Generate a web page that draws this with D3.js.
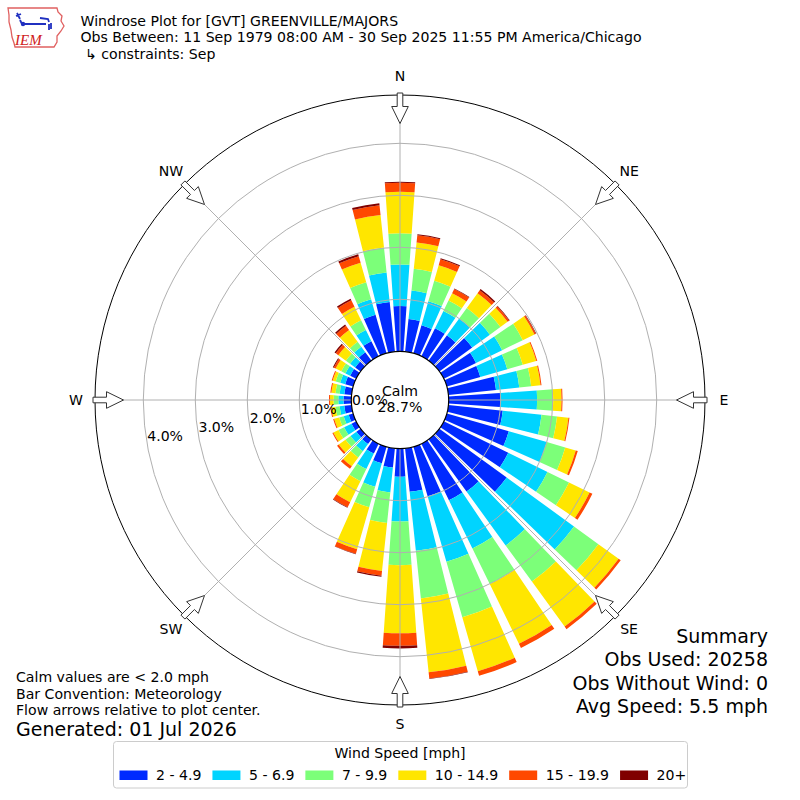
<!DOCTYPE html>
<html><head><meta charset="utf-8">
<script src="https://cdn.jsdelivr.net/npm/d3@7"></script>
<style>
body{margin:0;background:#fff}
text{font-family:"DejaVu Sans",sans-serif;fill:#000}
</style>
</head><body>
<svg id="chart" width="800" height="800"></svg>
<script>
// ---------------- data ----------------
const directions = d3.range(0, 360, 10);           // degrees, meteorological
const speedBins  = ["2 - 4.9", "5 - 6.9", "7 - 9.9", "10 - 14.9", "15 - 19.9", "20+"];
const binColors  = ["#002aff", "#00d4ff", "#7cff79", "#ffe600", "#ff4800", "#800000"];
const ringTicks  = [0, 1, 2, 3, 4];                 // percent
const compass    = ["N", "NE", "E", "SE", "S", "SW", "W", "NW"];
const calmPct    = 28.7;
// percent of observations per direction (0,10,...,350) for each speed bin
const bin2to5   = [0.87,0.63,0.56,0.60,0.60,0.78,0.69,0.67,0.92,0.99,1.05,1.24,1.38,1.60,1.24,1.21,0.99,0.84,0.54,0.37,0.33,0.21,0.11,0.10,0.10,0.09,0.14,0.15,0.14,0.16,0.13,0.13,0.20,0.32,0.77,0.96];
const bin5to7   = [0.80,0.55,0.48,0.37,0.40,0.42,0.56,0.54,0.45,0.71,0.75,0.76,0.84,1.60,1.28,1.03,1.31,1.14,0.86,0.48,0.47,0.33,0.17,0.14,0.16,0.10,0.09,0.10,0.09,0.10,0.10,0.12,0.13,0.24,0.31,0.57];
const bin7to10  = [0.60,0.42,0.41,0.22,0.25,0.25,0.44,0.31,0.23,0.31,0.30,0.37,0.46,0.58,0.86,0.76,1.11,0.92,0.84,0.59,0.41,0.26,0.15,0.12,0.12,0.09,0.08,0.09,0.08,0.09,0.09,0.10,0.12,0.21,0.34,0.48];
const bin10to15 = [0.80,0.51,0.31,0.16,0.35,0.17,0.25,0.27,0.18,0.16,0.22,0.21,0.44,0.48,1.07,1.28,1.08,1.43,1.31,0.93,0.84,0.45,0.21,0.16,0.11,0.10,0.08,0.07,0.08,0.06,0.12,0.18,0.28,0.29,0.39,0.63];
const bin15to20 = [0.17,0.14,0.12,0.09,0.07,0.04,0.03,0.02,0.02,0.02,0.02,0.04,0.06,0.05,0.06,0.09,0.09,0.12,0.24,0.09,0.09,0.11,0.06,0.04,0.02,0.02,0.02,0.02,0.02,0.02,0.04,0.06,0.10,0.14,0.13,0.19];
const bin20plus = [0.02,0.02,0.02,0.01,0.03,0.01,0.01,0.00,0.00,0.00,0.00,0.00,0.00,0.00,0.00,0.00,0.00,0.01,0.05,0.02,0.01,0.01,0.00,0.00,0.00,0.00,0.00,0.00,0.00,0.00,0.02,0.03,0.03,0.03,0.04,0.04];

const titleLines = ["Windrose Plot for [GVT] GREENVILLE/MAJORS",
  "Obs Between: 11 Sep 1979 08:00 AM - 30 Sep 2025 11:55 PM America/Chicago",
  " \u21b3 constraints: Sep"];
const summaryLines = ["Summary", "Obs Used: 20258", "Obs Without Wind: 0", "Avg Speed: 5.5 mph"];
const noteLines = ["Calm values are < 2.0 mph", "Bar Convention: Meteorology", "Flow arrows relative to plot center."];
const generated = "Generated: 01 Jul 2026";

// ---------------- layout ----------------
const svg = d3.select("#chart");
const cx = 400, cy = 400;
const R0 = 48.7, RMAX = 305, PX_PER_PCT = 52;
const r = d3.scaleLinear().domain([0, (RMAX - R0) / PX_PER_PCT]).range([R0, RMAX]);
const rad = d => d * Math.PI / 180;
const halfWidth = 4; // degrees
const FS = "14.1px", FL = "19px";

const keys = ["a", "b", "c", "d", "e", "f"];
const bins = [bin2to5, bin5to7, bin7to10, bin10to15, bin15to20, bin20plus];
const rows = directions.map((dir, i) => {
  const o = {dir};
  keys.forEach((k, j) => o[k] = bins[j][i]);
  return o;
});
const series = d3.stack().keys(keys)(rows);

const g = svg.append("g").attr("transform", `translate(${cx},${cy})`);

// bars
const arc = d3.arc()
  .innerRadius(d => r(d[0]))
  .outerRadius(d => r(d[1]))
  .startAngle(d => rad(d.data.dir - halfWidth))
  .endAngle(d => rad(d.data.dir + halfWidth));

series.forEach((s, j) => {
  g.append("g").selectAll("path")
    .data(s.filter(d => d[1] - d[0] > 0))
    .join("path")
    .attr("d", arc)
    .attr("fill", binColors[j]);
});

// grid rings
g.append("g").selectAll("circle")
  .data(ringTicks.filter(t => t > 0))
  .join("circle")
  .attr("r", d => r(d))
  .attr("fill", "none")
  .attr("stroke", "#b0b0b0")
  .attr("stroke-width", 1);

// radial lines
const pt = (deg, R) => [R * Math.sin(rad(deg)), -R * Math.cos(rad(deg))];
g.append("g").selectAll("line")
  .data(d3.range(0, 360, 45))
  .join("line")
  .attr("x1", 0).attr("y1", 0)
  .attr("x2", d => pt(d, RMAX)[0])
  .attr("y2", d => pt(d, RMAX)[1])
  .attr("stroke", "#b0b0b0")
  .attr("stroke-width", 1);

// calm circle
g.append("circle").attr("r", R0).attr("fill", "#fff").attr("stroke", "#000").attr("stroke-width", 1.2);

// outer circle
g.append("circle").attr("r", RMAX).attr("fill", "none").attr("stroke", "#000").attr("stroke-width", 1);

// flow arrows
const arrowShape = [[307, 2.8], [293.5, 2.8], [293.5, 8.3], [276.5, 0], [293.5, -8.3], [293.5, -2.8], [307, -2.8]];
g.append("g").selectAll("path")
  .data(d3.range(0, 360, 45))
  .join("path")
  .attr("d", deg => {
    const a = rad(deg);
    const u = [Math.sin(a), -Math.cos(a)], v = [Math.cos(a), Math.sin(a)];
    return "M" + arrowShape.map(([R, w]) => [R * u[0] + w * v[0], R * u[1] + w * v[1]].map(n => n.toFixed(2)).join(",")).join("L") + "Z";
  })
  .attr("fill", "#fff")
  .attr("stroke", "#333")
  .attr("stroke-width", 1);

// compass labels
g.append("g").selectAll("text")
  .data(compass)
  .join("text")
  .attr("x", (d, i) => pt(i * 45, 324)[0])
  .attr("y", (d, i) => pt(i * 45, 324)[1])
  .attr("text-anchor", "middle")
  .attr("dominant-baseline", "central")
  .style("font-size", FS)
  .text(d => d);

// ring labels
g.append("g").selectAll("text")
  .data(ringTicks)
  .join("text")
  .attr("x", d => pt(260, r(d))[0])
  .attr("y", d => pt(260, r(d))[1] - 8.7)
  .attr("text-anchor", "start")
  .attr("dominant-baseline", "central")
  .style("font-size", FS)
  .text(d => d.toFixed(1) + "%");

// calm text
g.append("text").attr("x", 0).attr("y", -9).attr("text-anchor", "middle").attr("dominant-baseline", "central")
  .style("font-size", FS).text("Calm");
g.append("text").attr("x", 0).attr("y", 7).attr("text-anchor", "middle").attr("dominant-baseline", "central")
  .style("font-size", FS).text(calmPct.toFixed(1) + "%");

// title
svg.append("g").selectAll("text").data(titleLines).join("text")
  .attr("x", 80.5).attr("y", (d, i) => 20.5 + i * 16.6)
  .attr("dominant-baseline", "central")
  .style("font-size", FS)
  .style("white-space", "pre")
  .attr("xml:space", "preserve")
  .text(d => d);

// logo
const logo = svg.append("g");
logo.append("path")
  .attr("d", "M8,8 L57,8 L58,12 L62,16 L61,21 L64,26 L61,31 L57,36 L57,42 L54,47 L15,47 L14,43 L12,37 L11,30 L9,22 L9,15 Z")
  .attr("fill", "none").attr("stroke", "#e06060").attr("stroke-width", 1.3);
logo.append("path")
  .attr("d", "M17,13 L20,19 M16,16 L21,14 M20,20 L22,24 M22,24 L46,24 M40,18 L48,19 L49,22 M49,24 L49,30 M51,23 L51,29")
  .attr("fill", "none").attr("stroke", "#2030c0").attr("stroke-width", 1.8);
logo.append("circle").attr("cx", 23).attr("cy", 24).attr("r", 2.2).attr("fill", "#2030c0");
logo.append("text").attr("x", 15).attr("y", 45)
  .style("font-family", "'Liberation Serif',serif").style("font-style", "italic")
  .style("font-size", "15px").style("fill", "#d02020").text("IEM");

// summary
svg.append("g").selectAll("text").data(summaryLines).join("text")
  .attr("x", 768).attr("y", (d, i) => 636 + i * 23.3)
  .attr("text-anchor", "end").attr("dominant-baseline", "central")
  .style("font-size", FL).text(d => d);

// notes
svg.append("g").selectAll("text").data(noteLines).join("text")
  .attr("x", 16).attr("y", (d, i) => 677 + i * 16.7)
  .attr("dominant-baseline", "central")
  .style("font-size", FS).text(d => d);
svg.append("text").attr("x", 16).attr("y", 729).attr("dominant-baseline", "central")
  .style("font-size", FL).text(generated);

// legend
const leg = svg.append("g");
leg.append("rect").attr("x", 113.5).attr("y", 741.5).attr("width", 574).attr("height", 46.5)
  .attr("rx", 3).attr("fill", "#fff").attr("stroke", "#cccccc").attr("stroke-width", 1);
leg.append("text").attr("x", 400).attr("y", 753).attr("text-anchor", "middle").attr("dominant-baseline", "central")
  .style("font-size", FS).text("Wind Speed [mph]");
let lx = 119.5;
speedBins.forEach((lab, i) => {
  leg.append("rect").attr("x", lx).attr("y", 770.5).attr("width", 28).attr("height", 9.5).attr("fill", binColors[i]);
  const t = leg.append("text").attr("x", lx + 36.5).attr("y", 775).attr("dominant-baseline", "central")
    .style("font-size", FS).text(lab);
  lx = lx + 36.5 + t.node().getComputedTextLength() + 11;
});
</script>
</body></html>
